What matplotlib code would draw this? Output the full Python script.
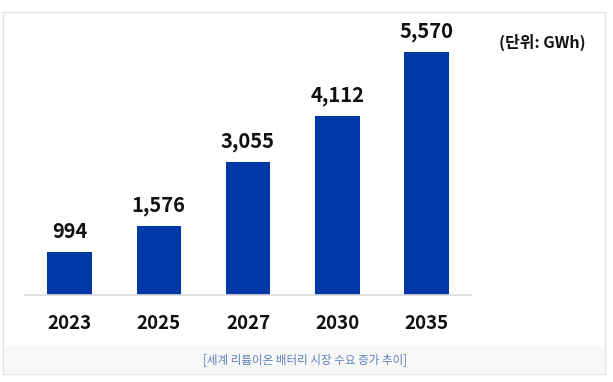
import matplotlib
matplotlib.use("Agg")
import matplotlib.pyplot as plt
from matplotlib.patches import Rectangle

plt.rcParams['font.family'] = ['Noto Sans CJK KR', 'DejaVu Sans']

years = ["2023", "2025", "2027", "2030", "2035"]
demand_gwh = [994, 1576, 3055, 4112, 5570]
unit_text = "(단위: GWh)"
caption = "[세계 리튬이온 배터리 시장 수요 증가 추이]"

bar_color = "#0038a8"
border_color = "#e3e3e3"

fig = plt.figure(figsize=(6.13, 3.82), dpi=100)
W, H = 613, 382

# outer box and caption band
fig.patches.append(Rectangle((3 / W, 1 - 374 / H), 602 / W, 362 / H, transform=fig.transFigure,
                             facecolor="white", edgecolor=border_color, linewidth=1, zorder=-2))
fig.patches.append(Rectangle((4 / W, 1 - 374 / H), 600 / W, 28 / H, transform=fig.transFigure,
                             facecolor="#f7f7f7", edgecolor="none", zorder=-1))
fig.text(305 / W, 1 - 360 / H, caption, ha="center", va="center", fontsize=8.3, color="#5b82b8")
fig.text(542 / W, 1 - 42 / H, unit_text, ha="center", va="center", fontsize=11.5,
         fontweight="bold", color="#111111")

ax = fig.add_axes([25 / W, 1 - 295 / H, 446 / W, 275 / H])
ax.set_zorder(2)
ax.patch.set_alpha(0)
x = range(len(years))
bars = ax.bar(x, demand_gwh, width=0.5, color=bar_color, zorder=2)
for xi, v in zip(x, demand_gwh):
    ax.annotate(f"{v:,}", (xi, v), xytext=(0, 7), textcoords="offset points",
                ha="center", va="bottom", fontsize=14.5, fontweight="bold", color="#111111")

ax.set_xlim(-0.5, 4.5)
ax.set_ylim(0, 6300)
ax.set_xticks(list(x))
ax.set_xticklabels(years, fontsize=13.5, fontweight="bold", color="#111111")
ax.tick_params(axis="x", length=0, pad=14)
ax.set_yticks([])
for s in ["top", "right", "left"]:
    ax.spines[s].set_visible(False)
ax.spines["bottom"].set_color("#d9d9d9")
ax.spines["bottom"].set_linewidth(1.2)

fig.savefig("out.png", dpi=100)
